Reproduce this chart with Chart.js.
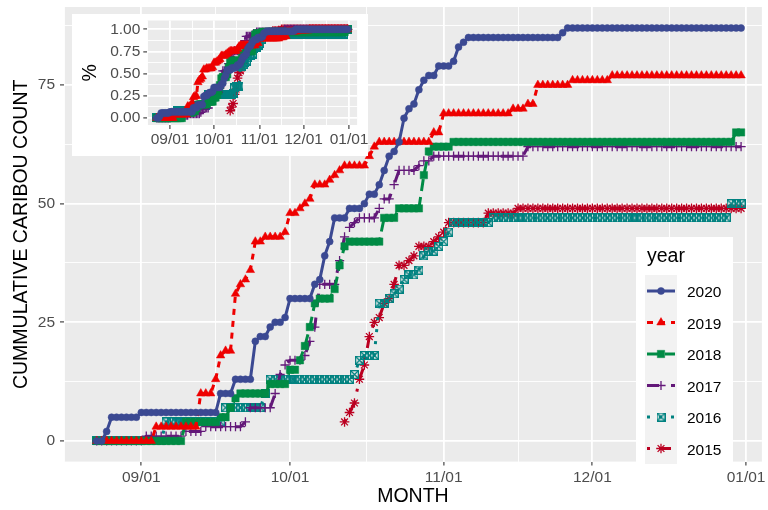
<!DOCTYPE html>
<html>
<head>
<meta charset="utf-8">
<title>Cummulative caribou count</title>
<script src="https://cdn.jsdelivr.net/npm/chart.js@4.4.1/dist/chart.umd.min.js"></script>
<style>
  html, body { margin: 0; padding: 0; background: #fff; }
  #wrap { position: relative; width: 768px; height: 510px; overflow: hidden; }
  #wrap canvas { display: block; }
  #inset-box { position: absolute; left: 72px; top: 14px; width: 296px; height: 142px; background: #fff; }
</style>
</head>
<body>
<div id="wrap">
  <canvas id="mainChart" width="768" height="510"></canvas>
  <div id="inset-box"><canvas id="insetChart" width="296" height="142"></canvas></div>
</div>
<script>
const FONT = "'Liberation Sans', Arial, Helvetica, sans-serif";

// Years in legend order; each series has one value per day from its first day
// (days are counted from 09/01)
const years = ['2020', '2019', '2018', '2017', '2016', '2015'];
const firstDays = [-9, -9, -9, -9, -9, 41];

const count2020 = [
  0, 0, 2, 5, 5, 5, 5, 5, 5,
  6, 6, 6, 6, 6, 6, 6, 6, 6, 6, 6, 6, 6, 6, 6, 6,
  10, 10, 10, 13, 13, 13, 13, 21, 22, 22, 24, 25, 25, 26,
  30, 30, 30, 30, 30, 33, 34, 39, 42, 47, 47, 47,
  49, 49, 49, 50, 52, 52, 54, 57, 60, 61, 63, 68, 70, 71, 74, 76, 77, 77, 79, 79, 79, 80, 83, 84,
  85, 85, 85, 85, 85, 85, 85, 85, 85, 85,
  85, 85, 85, 85, 85, 85, 85, 85, 85,
  86,
  87, 87, 87, 87, 87, 87, 87, 87, 87, 87,
  87, 87, 87, 87, 87, 87, 87, 87, 87, 87,
  87, 87, 87, 87, 87, 87, 87, 87, 87, 87,
  87, 87, 87, 87, 87, 87
];

const count2019 = [
  0, 0, 0, 0, 0, 0, 0, 0, 0, 0, 0, 0,
  3, 3, 3, 3, 3, 3, 3, 3, 3,
  10, 10, 10, 13, 18, 19, 19, 31, 33, 34, 36,
  42, 42, 43, 43, 43, 43, 44,
  48, 48, 49, 50, 51, 54, 54, 54, 55, 56, 57,
  58, 58, 58, 58, 58, 60, 62,
  63, 63, 63, 63, 63, 63, 63, 63, 63, 63, 63,
  65, 65,
  69, 69, 69, 69, 69, 69, 69, 69, 69, 69,
  69, 69, 69, 69,
  70, 70, 70, 71, 71,
  75, 75, 75, 75, 75, 75, 75,
  76, 76, 76, 76, 76, 76, 76, 76,
  77, 77, 77, 77, 77, 77, 77, 77, 77, 77,
  77, 77, 77, 77, 77, 77, 77, 77, 77, 77,
  77, 77, 77, 77, 77, 77, 77
];

const count2018 = [
  0, 0, 0, 0, 0, 0, 0, 0, 0, 0, 0, 0, 0, 0, 0, 0, 0, 0,
  4, 4, 4, 4, 4, 4, 4, 5, 5, 7, 9,
  10, 10, 10, 10, 10, 10, 12, 12, 12, 12, 15, 15,
  17, 20, 24, 29, 30, 30, 30, 32, 37, 41,
  42, 42, 42, 42, 42, 42, 42,
  47, 47, 47, 49, 49, 49, 49, 49, 56, 61, 62, 62, 62, 62,
  63, 63, 63, 63, 63, 63, 63, 63, 63, 63,
  63, 63, 63, 63, 63, 63, 63, 63, 63, 63,
  63, 63, 63, 63, 63, 63, 63, 63, 63, 63,
  63, 63, 63, 63, 63, 63, 63, 63, 63, 63,
  63, 63, 63, 63, 63, 63, 63, 63, 63, 63,
  63, 63, 63, 63, 63, 63, 63,
  65, 65
];

const count2017 = [
  0, 0, 0, 0, 0, 0, 0, 0, 0, 0,
  1, 1, 1, 1, 1, 1, 1, 1,
  2, 2, 2, 2, 3, 3, 3, 3, 3, 3, 3, 3, 4,
  7, 7, 7, 7, 7, 10, 14, 16, 17, 17, 17, 18, 21, 24,
  33, 33, 33, 33, 38, 43, 45, 46, 47, 47, 47, 47,
  49, 51, 51, 54, 57, 57, 57, 57, 58, 59, 59,
  60, 60, 60, 60, 60, 60, 60, 60, 60, 60,
  60, 60, 60, 60, 60, 60, 60, 60, 60,
  62, 62, 62, 62, 62, 62, 62, 62, 62, 62,
  62, 62, 62, 62, 62, 62, 62, 62, 62, 62,
  62, 62, 62, 62, 62, 62, 62, 62, 62, 62,
  62, 62, 62, 62, 62, 62, 62, 62, 62, 62,
  62, 62, 62, 62
];

const count2016 = [
  0, 0, 0, 0, 0, 0, 0, 0, 0, 0, 0, 0, 0, 0,
  4, 4, 4, 4, 4, 4, 4, 4, 4, 4, 4, 4,
  7, 7, 7, 7, 7, 7, 7, 7,
  10,
  13, 13, 13, 13, 13, 13, 13, 13, 13, 13,
  13, 13, 13, 13, 13, 13, 13,
  14, 17, 18, 18, 18,
  29, 29, 30, 31, 32, 34, 35, 35, 36, 39, 40, 40, 41, 42, 44,
  46, 46, 46, 46, 46, 46, 46, 46,
  47, 47, 47, 47, 47, 47, 47, 47, 47, 47,
  47, 47, 47, 47, 47, 47, 47, 47, 47, 47,
  47, 47, 47, 47, 47, 47, 47, 47, 47, 47,
  47, 47, 47, 47, 47, 47, 47, 47, 47, 47,
  47, 47, 47, 47, 47, 47, 47, 47,
  50, 50, 50
];

const count2015 = [
  4, 6, 8, 13, 16, 22, 25, 26, 29, 30, 33, 37, 37, 38, 39, 41, 41, 41, 42, 43, 44, 46,
  46, 46, 46, 46, 46, 46, 46,
  48, 48, 48, 48, 48, 48,
  49, 49, 49, 49, 49, 49, 49, 49, 49, 49,
  49, 49, 49, 49, 49, 49, 49, 49, 49, 49,
  49, 49, 49, 49, 49, 49, 49, 49, 49, 49,
  49, 49, 49, 49, 49, 49, 49, 49, 49, 49,
  49, 49, 49, 49, 49, 49
];

const seriesCounts = [count2020, count2019, count2018, count2017, count2016, count2015];

// Axis ticks (x in days from 09/01)
const xTickDays = [0, 30, 61, 91, 122];
const xTickLabels = ['09/01', '10/01', '11/01', '12/01', '01/01'];
const xMinorDays = [-15.5, 15, 45.5, 76, 106.5];
const yTickValues = [0, 25, 50, 75];
const yMinorValues = [12.5, 37.5, 62.5, 87.5];
const insetTickValues = [0, 0.25, 0.5, 0.75, 1];
const insetTickLabels = ['0.00', '0.25', '0.50', '0.75', '1.00'];
const insetMinorValues = [0.125, 0.375, 0.625, 0.875];

// Series styles
const seriesColors = ['#3B4992', '#EE0000', '#008B45', '#631879', '#008280', '#BB0021'];
const seriesDashes = [[], [6, 6], [12, 6], [12, 12], [3, 9], [3, 9, 12, 9]];
const seriesRadius = [3.5, 4.9, 5.2, 4.6, 4.5, 4.8];
const seriesPointBorder = [0.5, 0.5, 0.5, 1.3, 1, 1.3];

// Square with a cross inside (no built-in style for it)
const makeBoxCross = (color) => {
  const c = document.createElement('canvas');
  c.width = 9;
  c.height = 9;
  const g = c.getContext('2d');
  g.strokeStyle = color;
  g.lineWidth = 1.3;
  g.strokeRect(0.65, 0.65, 7.7, 7.7);
  g.beginPath();
  g.moveTo(1, 1); g.lineTo(8, 8);
  g.moveTo(8, 1); g.lineTo(1, 8);
  g.stroke();
  return c;
};

const seriesShapes = ['circle', 'triangle', 'rect', 'cross', makeBoxCross('#008280'), 'star'];

const buildDatasets = (asShare) => years.map((year, i) => {
  const values = seriesCounts[i];
  const total = values[values.length - 1];
  return {
    label: year,
    data: values.map((v, d) => ({ x: firstDays[i] + d, y: asShare ? v / total : v })),
    borderColor: seriesColors[i],
    backgroundColor: seriesColors[i],
    borderWidth: 3,
    borderDash: seriesDashes[i],
    borderCapStyle: 'butt',
    borderJoinStyle: 'round',
    tension: 0,
    fill: false,
    pointStyle: seriesShapes[i],
    pointRadius: seriesRadius[i],
    pointBorderWidth: seriesPointBorder[i],
    pointBackgroundColor: seriesColors[i],
    pointBorderColor: seriesColors[i]
  };
});

const gridFor = (majors) => ({
  color: '#FFFFFF',
  lineWidth: (ctx) => (ctx.tick && majors.includes(ctx.tick.value)) ? 1.8 : 0.9,
  tickColor: (ctx) => (ctx.tick && majors.includes(ctx.tick.value)) ? '#333333' : 'rgba(0,0,0,0)',
  tickLength: 4,
  tickWidth: 1.1
});

const labelFor = (values, labels) => (value) => {
  const idx = values.indexOf(value);
  return idx >= 0 ? labels[idx] : '';
};

// Grey panel behind the grid
const panelBackground = {
  id: 'panelBackground',
  beforeDraw(chart) {
    const { ctx, chartArea: a } = chart;
    ctx.save();
    ctx.fillStyle = '#EBEBEB';
    ctx.fillRect(a.left, a.top, a.right - a.left, a.bottom - a.top);
    ctx.restore();
  }
};

// ggplot-like legend inside the panel
const yearLegend = {
  id: 'yearLegend',
  afterDraw(chart) {
    const { ctx } = chart;
    ctx.save();
    ctx.fillStyle = '#FFFFFF';
    ctx.fillRect(636, 237, 97, 231);
    ctx.fillStyle = '#000000';
    ctx.font = `19.5px ${FONT}`;
    ctx.textAlign = 'left';
    ctx.textBaseline = 'alphabetic';
    ctx.fillText('year', 647, 262);
    ctx.fillStyle = '#F2F2F2';
    ctx.fillRect(645, 275, 32, 189);

    chart.data.datasets.forEach((ds, i) => {
      const cy = 291 + i * 31.5;
      ctx.save();
      ctx.strokeStyle = ds.borderColor;
      ctx.lineWidth = ds.borderWidth;
      ctx.lineCap = 'butt';
      ctx.setLineDash(ds.borderDash);
      ctx.beginPath();
      ctx.moveTo(647, cy);
      ctx.lineTo(675, cy);
      ctx.stroke();
      ctx.setLineDash([]);
      ctx.fillStyle = ds.pointBackgroundColor;
      ctx.strokeStyle = ds.pointBorderColor;
      ctx.lineWidth = ds.pointBorderWidth;
      Chart.helpers.drawPoint(ctx, {
        pointStyle: ds.pointStyle,
        radius: ds.pointRadius,
        rotation: 0,
        borderWidth: ds.pointBorderWidth
      }, 661, cy);
      ctx.restore();

      ctx.fillStyle = '#000000';
      ctx.font = `15.5px ${FONT}`;
      ctx.fillText(ds.label, 687, cy + 6);
    });
    ctx.restore();
  }
};

Chart.defaults.font.family = FONT;

const mainChart = new Chart(document.getElementById('mainChart'), {
  type: 'line',
  data: { datasets: buildDatasets(false) },
  options: {
    responsive: false,
    animation: false,
    events: [],
    layout: { padding: { top: 7, right: 0, bottom: 0, left: 0 } },
    plugins: { legend: { display: false }, tooltip: { enabled: false } },
    scales: {
      x: {
        type: 'linear',
        min: -15.6,
        max: 125.2,
        afterBuildTicks: (scale) => {
          scale.ticks = xTickDays.concat(xMinorDays).sort((a, b) => a - b).map(v => ({ value: v }));
        },
        afterFit: (scale) => {
          scale.height = 48.4;
          scale.paddingLeft = 0;
          scale.paddingRight = 0;
        },
        ticks: {
          autoSkip: false,
          maxRotation: 0,
          padding: 3,
          color: '#4D4D4D',
          font: { size: 15.5 },
          callback: labelFor(xTickDays, xTickLabels)
        },
        grid: gridFor(xTickDays),
        border: { display: false },
        title: {
          display: true,
          text: 'MONTH',
          color: '#000000',
          font: { size: 19.5 },
          padding: { top: 0, bottom: 1.4 }
        }
      },
      y: {
        type: 'linear',
        min: -4.35,
        max: 91.43,
        afterBuildTicks: (scale) => {
          scale.ticks = yTickValues.concat(yMinorValues).sort((a, b) => a - b).map(v => ({ value: v }));
        },
        afterFit: (scale) => {
          scale.width = 64;
          scale.paddingTop = 0;
          scale.paddingBottom = 0;
        },
        ticks: {
          autoSkip: false,
          padding: 5,
          color: '#4D4D4D',
          font: { size: 15.5 },
          callback: labelFor(yTickValues, yTickValues.map(String))
        },
        grid: gridFor(yTickValues),
        border: { display: false },
        title: {
          display: true,
          text: 'CUMMULATIVE CARIBOU COUNT',
          color: '#000000',
          font: { size: 19.5 },
          padding: { top: 10.3, bottom: 0 }
        }
      }
    }
  },
  plugins: [panelBackground, yearLegend]
});

// Inset: share of each year's final count
const insetChart = new Chart(document.getElementById('insetChart'), {
  type: 'line',
  data: { datasets: buildDatasets(true) },
  options: {
    responsive: false,
    animation: false,
    events: [],
    layout: { padding: { top: 6.5, right: 10.9, bottom: 0, left: 0 } },
    plugins: { legend: { display: false }, tooltip: { enabled: false } },
    scales: {
      x: {
        type: 'linear',
        min: -15.5,
        max: 127.5,
        afterBuildTicks: (scale) => {
          scale.ticks = xTickDays.concat(xMinorDays).sort((a, b) => a - b).map(v => ({ value: v }));
        },
        afterFit: (scale) => {
          scale.height = 31;
          scale.paddingLeft = 0;
          scale.paddingRight = 0;
        },
        ticks: {
          autoSkip: false,
          maxRotation: 0,
          padding: 1,
          color: '#4D4D4D',
          font: { size: 15.5 },
          callback: labelFor(xTickDays, xTickLabels)
        },
        grid: gridFor(xTickDays),
        border: { display: false }
      },
      y: {
        type: 'linear',
        min: -0.079,
        max: 1.099,
        afterBuildTicks: (scale) => {
          scale.ticks = insetTickValues.concat(insetMinorValues).sort((a, b) => a - b).map(v => ({ value: v }));
        },
        afterFit: (scale) => {
          scale.width = 75.3;
          scale.paddingTop = 0;
          scale.paddingBottom = 0;
        },
        ticks: {
          autoSkip: false,
          padding: 3,
          color: '#4D4D4D',
          font: { size: 15.5 },
          callback: labelFor(insetTickValues, insetTickLabels)
        },
        grid: gridFor(insetTickValues),
        border: { display: false },
        title: {
          display: true,
          text: '%',
          color: '#000000',
          font: { size: 19.5 },
          padding: { top: 7.4, bottom: 0 }
        }
      }
    }
  },
  plugins: [panelBackground]
});
</script>
</body>
</html>
